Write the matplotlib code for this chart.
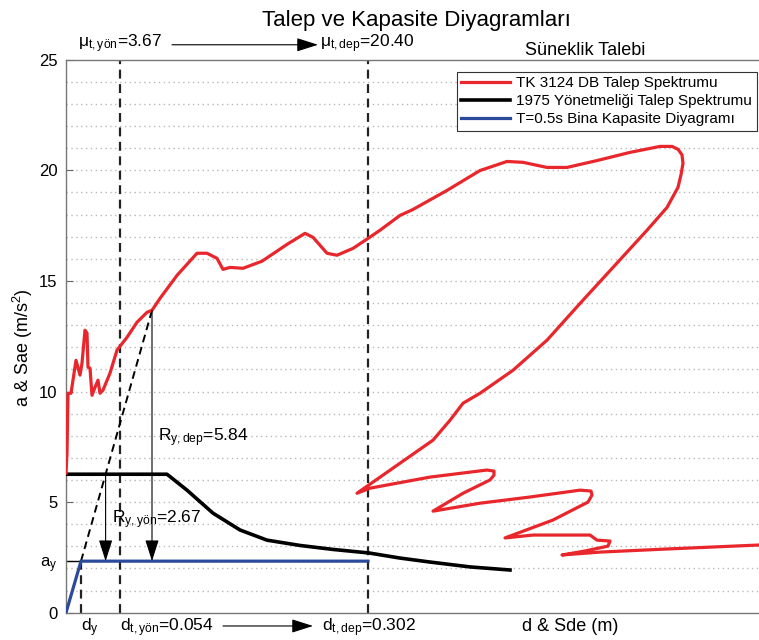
import matplotlib.pyplot as plt
import numpy as np

plt.rcParams['font.family'] = ['Liberation Sans', 'DejaVu Sans']
plt.rcParams['mathtext.fontset'] = 'custom'
plt.rcParams['mathtext.rm'] = 'Liberation Sans'
plt.rcParams['mathtext.it'] = 'Liberation Sans:italic'

# TK 3124 DB talep spektrumu (Sd [m], Sae [m/s2])
tk_sd = [0.000, 0.001, 0.002, 0.005, 0.010, 0.014, 0.016, 0.019, 0.021, 0.022,
         0.024, 0.026, 0.029, 0.032, 0.034, 0.037, 0.044, 0.051, 0.061, 0.071,
         0.081, 0.086, 0.094, 0.111, 0.131, 0.141, 0.151, 0.157, 0.164, 0.177,
         0.196, 0.221, 0.239, 0.247, 0.261, 0.271, 0.287, 0.302, 0.314, 0.334,
         0.347, 0.381, 0.414, 0.441, 0.457, 0.481, 0.501, 0.531, 0.564, 0.594,
         0.606, 0.612, 0.616, 0.617, 0.615, 0.612, 0.601, 0.581, 0.547, 0.514,
         0.481, 0.447, 0.414, 0.397, 0.384, 0.367, 0.291, 0.304, 0.364, 0.421,
         0.428, 0.428, 0.424, 0.397, 0.367, 0.414, 0.464, 0.514, 0.525, 0.526,
         0.522, 0.487, 0.439, 0.467, 0.524, 0.531, 0.544, 0.542, 0.519, 0.496,
         0.534, 0.601, 0.693, 0.724]
tk_sa = [6.31, 7.21, 9.92, 9.92, 11.41, 10.74, 11.28, 12.77, 12.64, 11.10,
         11.05, 9.83, 10.19, 10.51, 9.92, 10.06, 10.83, 11.87, 12.45, 13.13,
         13.58, 13.67, 14.21, 15.25, 16.25, 16.25, 16.02, 15.52, 15.61, 15.57,
         15.89, 16.65, 17.15, 16.97, 16.25, 16.16, 16.47, 16.92, 17.29, 17.96,
         18.23, 19.09, 19.99, 20.40, 20.36, 20.13, 20.13, 20.44, 20.81, 21.08,
         21.08, 20.95, 20.70, 20.31, 19.80, 19.23, 18.32, 17.29, 15.61, 13.98,
         12.32, 10.96, 9.92, 9.47, 8.70, 7.80, 5.40, 5.63, 6.13, 6.45,
         6.40, 6.22, 6.00, 5.40, 4.59, 4.95, 5.23, 5.54, 5.50, 5.32,
         5.00, 4.19, 3.38, 3.51, 3.51, 3.28, 3.24, 3.01, 2.79, 2.61,
         2.74, 2.88, 3.06, 3.14]

# 1975 Yonetmeligi talep spektrumu
y75_sd = [0.000, 0.101, 0.121, 0.147, 0.174, 0.201, 0.234, 0.267, 0.303,
          0.334, 0.364, 0.404, 0.444]
y75_sa = [6.26, 6.26, 5.54, 4.50, 3.74, 3.28, 3.04, 2.86, 2.70,
          2.47, 2.29, 2.07, 1.93]

# bina kapasite diyagrami
d_y, a_y = 0.015, 2.33
d_t_yon, d_t_dep = 0.054, 0.302
cap_sd = [0.0, d_y, d_t_dep]
cap_sa = [0.0, a_y, a_y]

# point where the elastic line meets the TK spectrum
perf_sd, perf_sa = 0.086, 13.67
plateau_75 = y75_sa[0]

fig = plt.figure(figsize=(7.59, 6.4), dpi=100)
ax = fig.add_axes([66 / 759, 27.3 / 640, 693 / 759, 553 / 640])
ax.set_xlim(0, 0.693)
ax.set_ylim(0, 25)

for g in range(1, 25):
    ax.axhline(g, color='#b8b8b8', ls=(0, (1, 2.5)), lw=1, zorder=0)

red = '#e8262b'
blue = '#2c4a9b'
ln_tk, = ax.plot(tk_sd, tk_sa, color=red, lw=2.3, solid_joinstyle='round', zorder=4)
ln_75, = ax.plot(y75_sd, y75_sa, color='k', lw=2.6, zorder=3)
ln_cap, = ax.plot(cap_sd, cap_sa, color=blue, lw=2.3, zorder=3)

# dashed verticals
ax.axvline(d_t_yon, color='#222222', lw=1.6, dashes=(4, 2.5), zorder=2)
ax.axvline(d_t_dep, color='#222222', lw=1.6, dashes=(4, 2.5), zorder=2)
ax.plot([d_y, d_y], [0, a_y], color='#222222', lw=1.6, dashes=(4, 2.5), zorder=2)
ax.plot([0, d_y], [a_y, a_y], color='k', lw=1, zorder=2)

# elastic line extension
ax.plot([d_y, perf_sd], [a_y, perf_sa], color='k', lw=1.4, dashes=(4, 2.5), zorder=2)

# R arrows
slope = (perf_sa - a_y) / (perf_sd - d_y)
x_yon = d_y + (plateau_75 - a_y) / slope
aprops = dict(arrowstyle='-|>,head_length=1.1,head_width=0.35', color='k',
              lw=0.8, mutation_scale=12, shrinkA=0, shrinkB=0)
ax.annotate('', xy=(x_yon, a_y), xytext=(x_yon, plateau_75), arrowprops=aprops, zorder=5)
ax.annotate('', xy=(perf_sd, a_y), xytext=(perf_sd, perf_sa), arrowprops=aprops, zorder=5)
ax.text(0.092, 7.76, r'R$_{\mathrm{y,dep}}$=5.84', fontsize=12.5)
ax.text(0.046, 4.05, r'R$_{\mathrm{y,yön}}$=2.67', fontsize=12.5)

trans = ax.get_xaxis_transform()
# top labels
ax.text(0.506, 1.061, 'Talep ve Kapasite Diyagramları', transform=ax.transAxes,
        fontsize=16, ha='center', va='baseline')
ax.text(0.012, 1.023, r'μ$_{\mathrm{t,yön}}$=3.67', transform=trans, fontsize=12.5,
        va='baseline', clip_on=False)
ax.text(0.254, 1.023, r'μ$_{\mathrm{t,dep}}$=20.40', transform=trans, fontsize=12.5,
        va='baseline', clip_on=False)
ax.annotate('', xy=(0.252, 1.027), xytext=(0.106, 1.027), xycoords=trans,
            arrowprops=aprops, annotation_clip=False)
ax.text(0.519, 1.0085, 'Süneklik Talebi', transform=trans, fontsize=13,
        ha='center', va='baseline', clip_on=False)

# bottom labels
ax.text(d_y, -0.033, r'd$_{\mathrm{y}}$', transform=trans, fontsize=12.5,
        va='baseline', clip_on=False)
ax.text(d_t_yon, -0.033, r'd$_{\mathrm{t,yön}}$=0.054', transform=trans, fontsize=12.5,
        va='baseline', clip_on=False)
ax.annotate('', xy=(0.247, -0.024), xytext=(0.157, -0.024), xycoords=trans,
            arrowprops=aprops, annotation_clip=False)
ax.text(0.256, -0.033, r'd$_{\mathrm{t,dep}}$=0.302', transform=trans, fontsize=12.5,
        va='baseline', clip_on=False)
ax.text(0.504, -0.033, 'd & Sde (m)', transform=trans, fontsize=13,
        ha='center', va='baseline', clip_on=False)

ax.text(-0.062, 0.479, r'a & Sae (m/s$^2$)', transform=ax.transAxes, fontsize=13,
        rotation=90, ha='center', va='center')

ax.set_xticks([])
ax.set_yticks([0, a_y, 5, 10, 15, 20, 25])
ax.set_yticklabels(['0', r'a$_{\mathrm{y}}$', '5', '10', '15', '20', '25'])
ax.tick_params(axis='y', direction='in', length=5, width=0.8, pad=6,
               labelsize=12, color='#666666')
for s in ['left', 'top', 'bottom']:
    ax.spines[s].set_color('#777777')
    ax.spines[s].set_linewidth(1)
ax.spines['right'].set_visible(False)

leg = ax.legend([ln_tk, ln_75, ln_cap],
                ['TK 3124 DB Talep Spektrumu', '1975 Yönetmeliği Talep Spektrumu',
                 'T=0.5s Bina Kapasite Diyagramı'],
                loc='upper right', bbox_to_anchor=(0.997, 0.978), fontsize=11,
                fancybox=False, edgecolor='#333333', framealpha=1, borderpad=0.3,
                labelspacing=0.25, handlelength=3.2, handletextpad=0.4,
                borderaxespad=0)
leg.get_frame().set_linewidth(0.8)

fig.savefig('out.png', dpi=100)
